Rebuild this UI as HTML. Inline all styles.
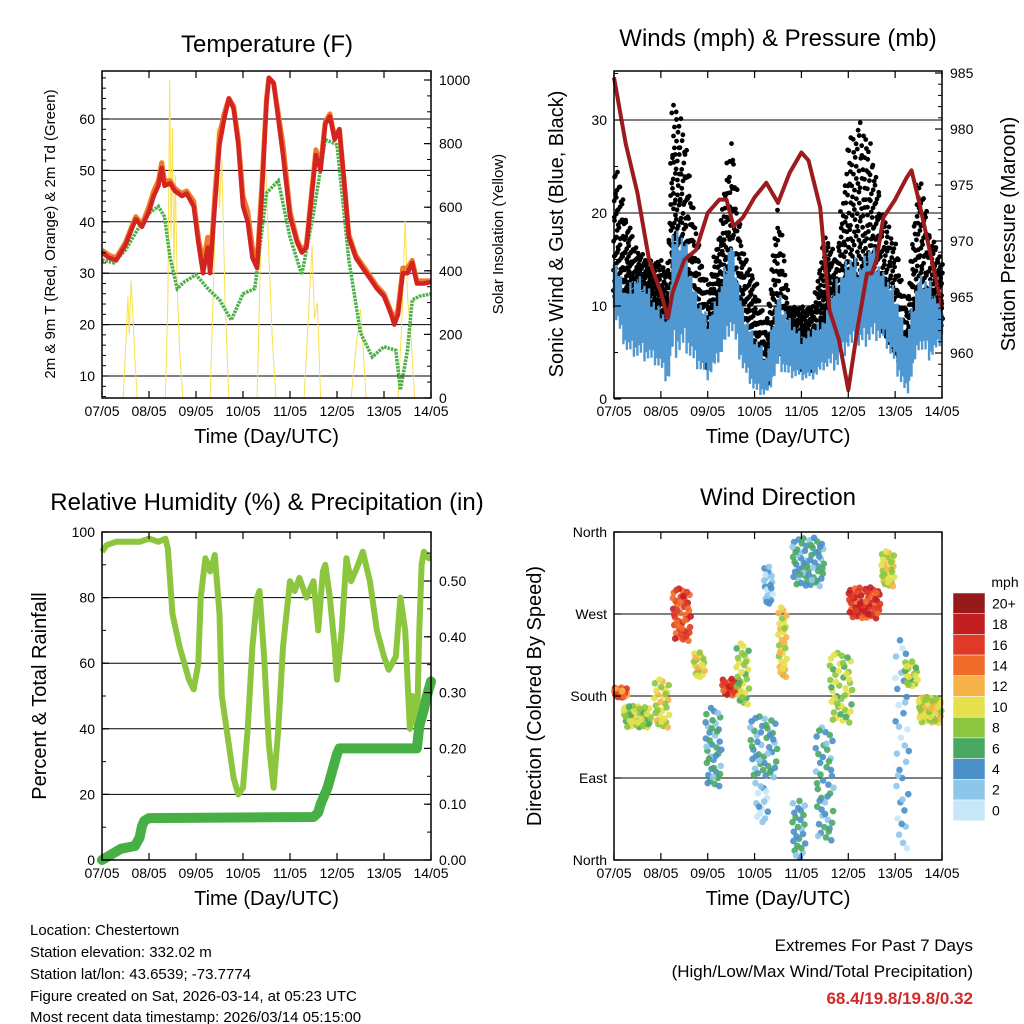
<!DOCTYPE html>
<html><head><meta charset="utf-8"><style>
html,body{margin:0;padding:0;background:#fff}
svg{display:block;font-family:"Liberation Sans",sans-serif}
</style></head><body>
<svg id="s" width="1024" height="1024" viewBox="0 0 1024 1024" xmlns="http://www.w3.org/2000/svg">
<rect width="1024" height="1024" fill="#fff"/>
<g id="p1"></g>
<g id="p2"></g>
<g id="p3"></g>
<g id="p4"></g>
<g id="txt">
<text x="30" y="935" font-size="15">Location: Chestertown</text>
<text x="30" y="957" font-size="15">Station elevation: 332.02 m</text>
<text x="30" y="979" font-size="15">Station lat/lon: 43.6539; -73.7774</text>
<text x="30" y="1001" font-size="15">Figure created on Sat, 2026-03-14, at 05:23 UTC</text>
<text x="30" y="1022" font-size="15">Most recent data timestamp: 2026/03/14 05:15:00</text>
<text x="973" y="951" font-size="17" text-anchor="end">Extremes For Past 7 Days</text>
<text x="973" y="977" font-size="17" text-anchor="end">(High/Low/Max Wind/Total Precipitation)</text>
<text x="973" y="1004" font-size="17" font-weight="bold" fill="#d02a2a" text-anchor="end">68.4/19.8/19.8/0.32</text>
</g>
</svg>
<script>
// ---------- DATA ----------
const dayLabels=["07/05","08/05","09/05","10/05","11/05","12/05","13/05","14/05"];
const tempTicks=[10,20,30,40,50,60];
const solarTicks=[0,200,400,600,800,1000];
const windTicks=[0,10,20,30];
const presTicks=[960,965,970,975,980,985];
const rhTicks=[0,20,40,60,80,100];
const rainTicks=[0,0.1,0.2,0.3,0.4,0.5];
const dirLabels=["North","East","South","West","North"];
const dirTicks=[0,90,180,270,360];
const speedBins=["0","2","4","6","8","10","12","14","16","18","20+"];
const speedColors=["#c6e7f8","#8ec6ea","#4a8fc8","#48a862","#8cc63f","#e6e04e","#f8b24a","#f06a2a","#e03a26","#c21e22","#961a1a"];

const tTime=[0,0.15,0.3,0.5,0.65,0.72,0.85,1.0,1.1,1.2,1.27,1.33,1.45,1.55,1.7,1.8,1.95,2.05,2.15,2.25,2.3,2.4,2.5,2.6,2.7,2.8,2.9,3.0,3.1,3.2,3.3,3.4,3.5,3.55,3.65,3.75,3.85,4.0,4.15,4.25,4.35,4.45,4.55,4.65,4.75,4.85,4.95,5.05,5.15,5.25,5.4,5.55,5.7,5.85,6.0,6.15,6.22,6.3,6.4,6.5,6.6,6.7,6.85,7.0];
const temp2m=[34,33,32.5,35.5,39,40.5,39,42,45,47,50.5,47,47.5,46,45,45.5,43,36,30,35,30,43,55,60,64,62,55,43,40,33,31,45,63,68,67,60,53,41,36,34,35,44,53,50,59,60.5,56,58,48,37,33,31,29,27,25.5,22,20,22,30,30,32,28,28,28.3];
const temp9m=[34.5,33.5,33,36,39.5,41,39.5,43,46,48,51.5,48,48,46.5,45.5,46,44,37,32,37,31,45,57,61,64,62.5,56,45,42,35,32,47,64,68,67,61,55,42,36.5,34.5,35.5,45,54,51,59.5,61,56.5,58,48,37.5,33.5,31.5,29.5,27.5,26,22.5,21,23,31,31,32.5,28.5,28.5,28.5];
const tdTime=[0,0.25,0.5,0.75,1.0,1.2,1.33,1.45,1.6,1.75,2.0,2.25,2.5,2.75,3.0,3.25,3.5,3.75,4.0,4.25,4.5,4.75,5.0,5.25,5.5,5.75,6.0,6.25,6.35,6.5,6.6,6.75,7.0];
const dewpoint=[32.6,32,34.5,38.4,41.7,43,41,33,27,28.3,29.7,27,24.8,20.9,26,27,45.6,48,37,29.7,41.7,56,55,32.6,18.4,13.7,15.7,15,7.3,15,24.8,25.5,26];
const solarTime=[0,0.45,0.5,0.55,0.58,0.62,0.66,0.7,0.75,1.0,1.35,1.4,1.44,1.47,1.5,1.53,1.56,1.6,1.65,1.72,2.0,2.3,2.38,2.45,2.5,2.55,2.62,2.7,3.0,3.3,3.38,3.45,3.5,3.55,3.62,3.7,4.0,4.3,4.4,4.47,4.52,4.58,4.65,5.0,5.3,5.42,5.5,5.56,5.62,6.0,6.3,6.38,6.45,6.5,6.58,6.65,7.0];
const solar=[0,0,150,320,200,370,250,120,0,0,0,300,1000,500,850,400,700,350,150,0,0,0,400,850,600,750,300,0,0,0,500,880,650,450,200,0,0,0,280,480,250,300,0,0,0,180,280,150,0,0,0,250,560,320,180,0,0];

const windTime=[0,0.25,0.5,0.75,1.0,1.15,1.25,1.5,1.75,2.0,2.25,2.5,2.75,3.0,3.25,3.5,3.75,4.0,4.25,4.5,4.75,5.0,5.25,5.5,5.75,6.0,6.25,6.5,6.75,7.0];
const windLow=[9,5,4,4,3,1,4,5,3,2,4,7,3,0.5,0,3,2,2,2,3,3,5,5,6,6,3,0,5,4,6];
const windHigh=[16,12,14,12,10,9,19,18,12,9,12,18,10,7,5,12,9,7,8,9,13,16,15,17,14,12,7,14,13,10];
const gustLow=[11,9,9,8,6,5,14,11,8,3,8,10,7,4,1,5,4,3,3,7,7,8,8,10,7,5,2,8,6,8];
const gustHigh=[27,20,16,15,15,14,33,29,18,12,18,29,16,13,8,21,10,10,10,18,15,28,30,27,20,17,10,25,18,15];
const presTime=[0,0.25,0.5,0.75,1.0,1.15,1.25,1.5,1.75,2.0,2.25,2.4,2.55,2.75,3.0,3.25,3.5,3.75,4.0,4.15,4.4,4.6,4.8,5.0,5.2,5.4,5.5,5.6,5.75,6.0,6.25,6.35,6.5,6.75,7.0];
const pressure=[984.6,978.7,974.3,968.3,965.4,963.1,965.4,968.3,969.2,972.5,973.7,973.7,971.3,972.1,973.9,975.2,973.4,976.1,977.9,977.2,973,963.8,961.2,956.7,962.3,967.1,967.1,968.3,972.1,973.7,975.7,976.3,973.7,968.9,964.1];

const rhTime=[0,0.1,0.3,0.5,0.8,1.0,1.2,1.35,1.4,1.5,1.65,1.75,1.85,1.95,2.05,2.1,2.2,2.3,2.4,2.5,2.55,2.7,2.8,2.9,3.0,3.1,3.2,3.3,3.35,3.45,3.55,3.65,3.75,3.85,4.0,4.1,4.2,4.35,4.5,4.6,4.7,4.75,4.85,4.95,5.0,5.1,5.2,5.3,5.45,5.55,5.7,5.85,6.0,6.1,6.25,6.35,6.45,6.5,6.55,6.6,6.7,6.75,6.8,6.85,6.95,7.0];
const rh=[94,96,97,97,97,98,97,98,95,75,65,60,55,52,60,80,92,88,93,75,50,35,25,20,22,40,65,80,82,62,35,22,40,65,85,82,86,80,85,70,88,90,80,65,55,70,92,85,90,94,85,70,62,58,62,80,70,55,40,50,40,70,90,94,92,92];
const rainTime=[0,0.2,0.4,0.7,0.8,0.85,0.9,1.0,4.5,4.6,4.65,4.8,4.9,5.0,5.05,6.7,6.75,6.85,6.9,7.0];
const rain=[0,0.01,0.02,0.025,0.04,0.06,0.07,0.075,0.077,0.085,0.1,0.13,0.16,0.19,0.2,0.2,0.24,0.27,0.29,0.32];

// wind direction clusters: start day, end day, dir min, dir max, speed, count
const dirDayStart=[0,0.2,0.85,1.25,1.7,1.95,2.3,2.6,2.9,3.0,3.2,3.5,3.8,3.8,4.3,4.6,5.0,5.7,6.0,6.2,6.5];
const dirDayEnd=[0.3,0.8,1.2,1.65,1.95,2.3,2.7,2.9,3.5,3.3,3.4,3.7,4.1,4.5,4.7,5.1,5.7,6.0,6.3,6.5,7.0];
const dirMin=[178,145,145,240,200,80,180,170,90,40,280,200,0,300,20,150,265,300,10,190,150];
const dirMax=[190,170,200,300,230,170,200,240,160,90,325,280,70,355,150,230,300,340,250,220,180];
const dirSpeed=[14,8,9,15,9,4,16,8,4,1,2,10,4,4,4,8,16,9,2,8,9];
const dirCount=[25,45,30,45,20,40,25,30,45,15,20,30,25,60,45,45,60,30,35,20,50];

// ---------- HELPERS ----------
const NS="http://www.w3.org/2000/svg";
function mk(parent,tag,attrs,name,inter){const e=document.createElementNS(NS,tag);for(const k in attrs)e.setAttribute(k,attrs[k]);


parent.appendChild(e);return e;}
function tx(parent,x,y,str,size,anchor,name,rot){const e=mk(parent,'text',{x:x,y:y,'font-size':size,'text-anchor':anchor||'middle'},name,false);if(rot)e.setAttribute('transform','rotate(-90 '+x+' '+y+')');e.textContent=str;return e;}
function lin(d0,d1,r0,r1){return v=>r0+(v-d0)/(d1-d0)*(r1-r0);}
function path(xs,ys,fx,fy){let d="";for(let i=0;i<xs.length;i++)d+=(i?"L":"M")+fx(xs[i]).toFixed(1)+","+fy(ys[i]).toFixed(1);return d;}
function interp(ts,vs,t){if(t<=ts[0])return vs[0];for(let i=1;i<ts.length;i++){if(t<=ts[i]){const f=(t-ts[i-1])/(ts[i]-ts[i-1]);return vs[i-1]+f*(vs[i]-vs[i-1]);}}return vs[vs.length-1];}
function vdc(n,base){let v=0,den=1;while(n>0){den*=base;v+=(n%base)/den;n=Math.floor(n/base);}return v;}

function frame(g,L,T,R,B,fx,prefix){
  mk(g,'rect',{x:L,y:T,width:R-L,height:B-T,fill:'none',stroke:'#000','stroke-width':1.5},prefix+'-frame',false);
  for(let i=0;i<dayLabels.length;i++){const x=fx(i);
    mk(g,'line',{x1:x,y1:B,x2:x,y2:B-7,stroke:'#000','stroke-width':1.2},prefix+'-x-tick',false);
    mk(g,'line',{x1:x,y1:T,x2:x,y2:T+7,stroke:'#000','stroke-width':1.2},prefix+'-x-tick-top',false);
    tx(g,x,B+18,dayLabels[i],14,'middle',prefix+'-x-tick-label');
  }
  tx(g,(L+R)/2,B+45,"Time (Day/UTC)",20,'middle',prefix+'-x-axis-title');
}
function yAxis(g,ticks,fy,L,R,side,labels,prefix,minorStep,lo,hi){
  const x=side==='left'?L:R, dir=side==='left'?1:-1;
  ticks.forEach((v,i)=>{const y=fy(v);
    mk(g,'line',{x1:x,y1:y,x2:x+dir*7,y2:y,stroke:'#000','stroke-width':1.2},prefix+'-y-tick',false);
    const lab=labels?labels[i]:String(v);
    if(side==='left')tx(g,L-7,y+5,lab,14,'end',prefix+'-y-tick-label');else tx(g,R+8,y+5,lab,14,'start',prefix+'-y-tick-label');
  });
  if(minorStep){for(let v=lo;v<=hi+1e-9;v+=minorStep){const y=fy(v);mk(g,'line',{x1:x,y1:y,x2:x+dir*4,y2:y,stroke:'#000','stroke-width':1},prefix+'-y-minor-tick',false);}}
}
function grid(g,vals,fy,L,R,prefix){vals.forEach(v=>{const y=fy(v);mk(g,'line',{x1:L,y1:y,x2:R,y2:y,stroke:'#000','stroke-width':1},prefix+'-gridline',false);});}

// ---------- PANEL 1: TEMPERATURE ----------
(function(){
const g=document.getElementById('p1');const L=102,R=431,T=71,B=398;
const fx=lin(0,7,L,R), fy=lin(10,60,376,119), fs=lin(0,1000,398,80);
grid(g,[10,20,30,40,50,60],fy,L,R,'temp');
mk(g,'path',{d:path(solarTime,solar,fx,fs),fill:'none',stroke:'#f9e04f','stroke-width':1},'solar-line',false);
mk(g,'path',{d:path(tdTime,dewpoint,fx,fy),fill:'none',stroke:'#4cb046','stroke-width':3.5,'stroke-dasharray':'2.5 1'},'dewpoint-line',false);
mk(g,'path',{d:path(tTime,temp9m,fx,fy),fill:'none',stroke:'#f07a2a','stroke-width':5,'stroke-linejoin':'round'},'temp-9m-line',false);
mk(g,'path',{d:path(tTime,temp2m,fx,fy),fill:'none',stroke:'#d42422','stroke-width':4.5,'stroke-linejoin':'round'},'temp-2m-line',false);
frame(g,L,T,R,B,fx,'temp');
yAxis(g,tempTicks,fy,L,R,'left',null,'temp',2,6,68);
yAxis(g,solarTicks,fs,L,R,'right',null,'solar',50,0,1000);
tx(g,267,52,"Temperature (F)",24,'middle','temp-title');
tx(g,55,234,"2m & 9m T (Red, Orange) & 2m Td (Green)",15,'middle','temp-y-axis-title',true);
tx(g,503,234,"Solar Insolation (Yellow)",15,'middle','solar-y-axis-title',true);
})();

// ---------- PANEL 2: WINDS ----------
(function(){
const g=document.getElementById('p2');const L=614,R=942,T=71,B=398;
const fx=lin(0,7,L,R), fy=lin(0,30,399,120), fp=lin(960,985,353,73);
grid(g,[10,20,30],fy,L,R,'wind');
let gd="";let n=1;
for(let t=0;t<=7.0001;t+=0.01){const lo=interp(windTime,gustLow,t),hi=interp(windTime,gustHigh,t);
  for(let j=0;j<4;j++){const f=vdc(n++,3);const v=lo+(hi-lo)*(0.7*f*f+0.3*f);const x=fx(t)+(vdc(n,2)-0.5)*2,y=fy(v);gd+="M"+(x-2.4).toFixed(1)+","+y.toFixed(1)+"a2.4,2.4 0 1,0 4.8,0a2.4,2.4 0 1,0 -4.8,0";}}
mk(g,'path',{d:gd,fill:'#000'},'gust-dots',false);
let bd="";let m=1;
for(let t=0;t<=7.0001;t+=0.025){const lo=interp(windTime,windLow,t),hi=interp(windTime,windHigh,t);
  const f1=0.55+0.45*vdc(m,2), f0=0.35*vdc(m,3);m++;
  bd+="M"+fx(t).toFixed(1)+","+fy(lo+(hi-lo)*f0).toFixed(1)+"V"+fy(lo+(hi-lo)*f1).toFixed(1);}
mk(g,'path',{d:bd,fill:'none',stroke:'#4f98d2','stroke-width':2.4},'sonic-wind-line',false);
mk(g,'path',{d:path(presTime,pressure,fx,fp),fill:'none',stroke:'#9b1b1e','stroke-width':4,'stroke-linejoin':'round'},'pressure-line',false);
frame(g,L,T,R,B,fx,'wind');
yAxis(g,windTicks,fy,L,R,'left',null,'wind',5,0,35);
yAxis(g,presTicks,fp,L,R,'right',null,'pressure',1,957,985);
tx(g,778,46,"Winds (mph) & Pressure (mb)",24,'middle','winds-title');
tx(g,563,234,"Sonic Wind & Gust (Blue, Black)",20,'middle','wind-y-axis-title',true);
tx(g,1015,234,"Station Pressure (Maroon)",20,'middle','pressure-y-axis-title',true);
})();

// ---------- PANEL 3: RH ----------
(function(){
const g=document.getElementById('p3');const L=102,R=431,T=532,B=860;
const fx=lin(0,7,L,R), fy=lin(0,100,860,532), fr=lin(0,0.5,860,581);
grid(g,[20,40,60,80],fy,L,R,'rh');
mk(g,'path',{d:path(rhTime,rh,fx,fy),fill:'none',stroke:'#8cc63f','stroke-width':6,'stroke-linejoin':'round'},'rh-line',false);
mk(g,'path',{d:path(rainTime,rain,fx,fr),fill:'none',stroke:'#47b045','stroke-width':10,'stroke-linejoin':'round','stroke-linecap':'round'},'rainfall-line',false);
frame(g,L,T,R,B,fx,'rh');
yAxis(g,rhTicks,fy,L,R,'left',null,'rh',10,0,100);
yAxis(g,rainTicks,fr,L,R,'right',rainTicks.map(v=>v.toFixed(2)),'rain',0.05,0,0.55);
tx(g,267,510,"Relative Humidity (%) & Precipitation (in)",24,'middle','rh-title');
tx(g,46,696,"Percent & Total Rainfall",20,'middle','rh-y-axis-title',true);
})();

// ---------- PANEL 4: WIND DIRECTION ----------
(function(){
const g=document.getElementById('p4');const L=614,R=942,T=532,B=860;
const fx=lin(0,7,L,R), fy=lin(0,360,860,532);
grid(g,[90,180,270],fy,L,R,'dir');
const dots=mk(g,'g',{},'direction-dots',false);
for(let c=0;c<dirDayStart.length;c++){
  for(let j=1;j<=dirCount[c];j++){
    const a=vdc(j,2), b=vdc(j,3), e2=vdc(j+c,5);
    const t=dirDayStart[c]+(dirDayEnd[c]-dirDayStart[c])*a;
    const d=dirMin[c]+(dirMax[c]-dirMin[c])*b;
    let sp=dirSpeed[c]+Math.round((e2-0.5)*5);sp=Math.max(0,Math.min(20,sp));
    const ci=Math.min(10,Math.round(sp/2));
    mk(dots,'circle',{cx:fx(t).toFixed(1),cy:fy(d).toFixed(1),r:3.3,fill:speedColors[ci],'fill-opacity':0.9},'direction-dot',false);
  }
}
frame(g,L,T,R,B,fx,'dir');
yAxis(g,dirTicks,fy,L,R,'left',dirLabels,'dir',null);
tx(g,778,505,"Wind Direction",24,'middle','wind-direction-title');
tx(g,541,696,"Direction (Colored By Speed)",20,'middle','direction-y-axis-title',true);
const cb=mk(g,'g',{},'speed-colorbar',false);
const bh=20.7,top=593;
for(let i=0;i<speedBins.length;i++){const k=speedBins.length-1-i;const y=top+i*bh;
  mk(cb,'rect',{x:953,y:y,width:32,height:bh,fill:speedColors[k],stroke:'#fff','stroke-width':0.5},'colorbar-box',false);
  tx(cb,992,y+bh/2+5,speedBins[k],14,'start','colorbar-label');}
tx(cb,1005,587,"mph",14,'middle','colorbar-unit');
})();
</script>
</body></html>
